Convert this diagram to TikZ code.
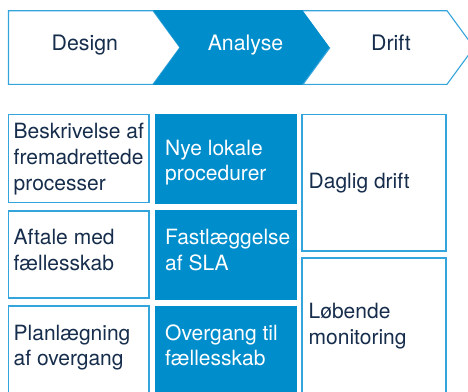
\documentclass[tikz,border=0pt]{standalone}
\usepackage{fontspec}
\setmainfont{TeX Gyre Heros}
\definecolor{mainblue}{RGB}{0,141,203}
\definecolor{lineblue}{RGB}{52,164,220}
\definecolor{navy}{RGB}{22,45,76}
\newcommand\stk[1]{\begin{tabular}[t]{@{}l@{}}#1\end{tabular}}
\begin{document}
\begin{tikzpicture}[x=1pt,y=-1pt,
  outl/.style={draw=lineblue,line width=1.1pt,fill=white},
  filled/.style={fill=mainblue,draw=none},
  txt/.style={inner sep=0pt,anchor=base west,text=navy,font=\fontsize{21}{25.8}\selectfont},
  wtxt/.style={txt,text=white},
  ctxt/.style={inner sep=0pt,anchor=base,text=navy,font=\fontsize{21.3}{25.8}\selectfont}]
\useasboundingbox (0,0) rectangle (468,391);
\clip (0,0) rectangle (468,391);
% chevron band
\path[outl] (8.5,10.7) -- (153,10.7) -- (180,47.5) -- (153,84.3) -- (8.5,84.3) -- cycle;
\path[filled] (153,10.1) -- (303,10.1) -- (330,47.5) -- (303,84.9) -- (153,84.9) -- (180,47.5) -- cycle;
\path[outl] (303,10.7) -- (447,10.7) -- (474,47.5) -- (447,84.3) -- (303,84.3) -- (330,47.5);
\node[ctxt] (design) at (84.8,50) {Design};
\node[ctxt,text=white] (analyse) at (245.5,50) {Analyse};
\node[ctxt] (drift) at (391,50) {Drift};
% left column
\path[outl] (8.5,114.7) rectangle (149,202.5);
\path[outl] (8.5,211) rectangle (149,298);
\path[outl] (8.5,306) rectangle (149,395);
\node[txt] (b1) at (13.5,138.5) {\stk{Beskrivelse af\\fremadrettede\\processer}};
\node[txt] (b2) at (13.5,244.5) {\stk{Aftale med\\fællesskab}};
\node[txt] (b3) at (13.5,340) {\stk{Planlægning\\af overgang}};
% middle column
\path[filled] (155,114) rectangle (297.3,204);
\path[filled] (155,210.3) rectangle (297.3,300);
\path[filled] (155,306) rectangle (297.3,396);
\node[wtxt] (m1) at (165,155) {\stk{Nye lokale\\procedurer}};
\node[wtxt] (m2) at (165,244.5) {\stk{Fastlæggelse\\af SLA}};
\node[wtxt] (m3) at (165,340) {\stk{Overgang til\\fællesskab}};
% right column
\path[outl] (302,114.5) rectangle (446,251);
\path[outl] (302,258) rectangle (446,400);
\node[txt] (r1) at (308.5,188) {Daglig drift};
\node[txt] (r2) at (308.5,318.5) {\stk{Løbende\\monitoring}};
\end{tikzpicture}
\end{document}
